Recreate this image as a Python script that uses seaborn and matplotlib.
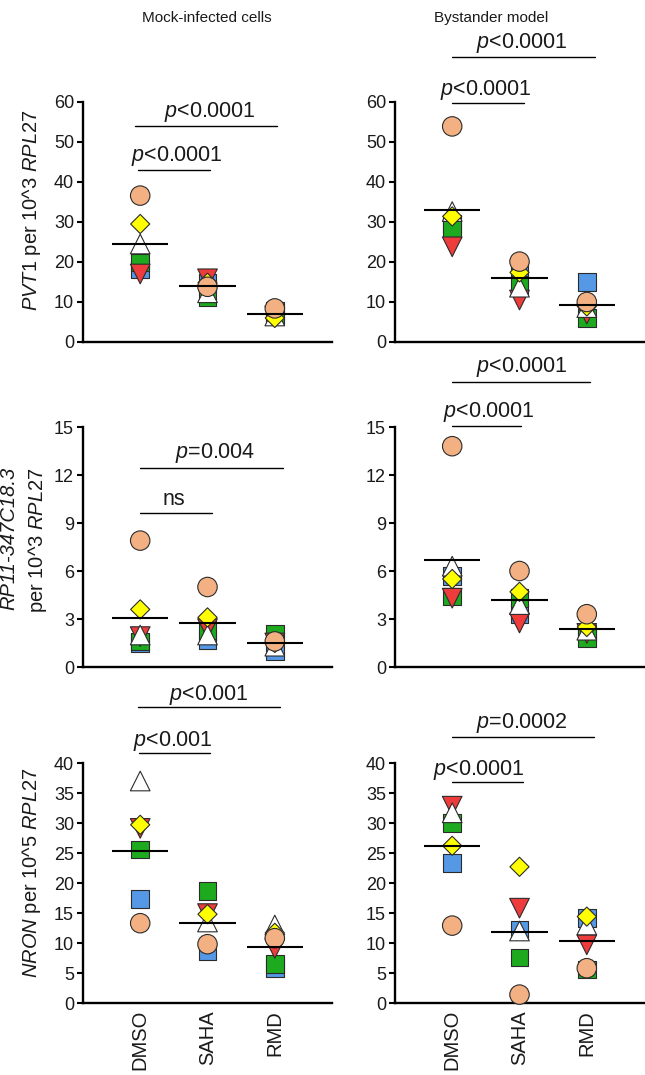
import numpy as np
import pandas as pd
import matplotlib
matplotlib.use("Agg")
import matplotlib.pyplot as plt
import seaborn as sns

# ---------------- data ----------------
TREATMENTS = ["DMSO", "SAHA", "RMD"]
# donor order = drawing order (first drawn at the back)
DONORS = ["blue", "green", "red", "white", "yellow", "peach"]

# PVT1, mock-infected cells (values per donor in DONORS order)
PVT1_MOCK_DMSO = [18.3, 19.9, 17.0, 24.5, 29.5, 36.6]
PVT1_MOCK_SAHA = [14.8, 11.3, 15.8, 12.3, 14.8, 13.8]
PVT1_MOCK_RMD = [7.8, 6.8, 6.5, 6.5, 6.0, 8.4]
PVT1_MOCK_MEAN = [24.4, 14.0, 7.0]

# PVT1, bystander model
PVT1_BYST_DMSO = [29.5, 28.2, 23.8, 32.6, 31.4, 53.9]
PVT1_BYST_SAHA = [18.4, 14.2, 10.5, 13.7, 17.4, 20.1]
PVT1_BYST_RMD = [15.0, 6.0, 7.0, 8.6, 8.9, 10.0]
PVT1_BYST_MEAN = [33.1, 15.9, 9.2]

# RP11-347C18.3, mock-infected cells
RP11_MOCK_DMSO = [1.5, 1.6, 1.9, 2.0, 3.6, 7.9]
RP11_MOCK_SAHA = [1.7, 2.3, 2.4, 2.0, 3.1, 5.0]
RP11_MOCK_RMD = [1.0, 2.1, 1.5, 1.3, 1.5, 1.6]
RP11_MOCK_MEAN = [3.09, 2.75, 1.5]

# RP11-347C18.3, bystander model
RP11_BYST_DMSO = [5.7, 4.4, 4.3, 6.3, 5.5, 13.8]
RP11_BYST_SAHA = [3.3, 4.3, 2.75, 3.9, 4.7, 6.0]
RP11_BYST_RMD = [2.1, 1.8, 2.1, 2.3, 2.5, 3.3]
RP11_BYST_MEAN = [6.67, 4.2, 2.35]

# NRON, mock-infected cells
NRON_MOCK_DMSO = [17.3, 25.6, 29.1, 37.0, 29.7, 13.3]
NRON_MOCK_SAHA = [8.6, 18.7, 14.9, 13.5, 14.8, 9.8]
NRON_MOCK_RMD = [5.8, 6.5, 9.1, 13.0, 11.7, 10.8]
NRON_MOCK_MEAN = [25.3, 13.3, 9.4]

# NRON, bystander model
NRON_BYST_DMSO = [23.3, 30.0, 32.8, 31.7, 26.2, 12.9]
NRON_BYST_SAHA = [12.2, 7.6, 15.8, 12.0, 22.7, 1.4]
NRON_BYST_RMD = [14.2, 5.6, 9.7, 13.0, 14.4, 5.8]
NRON_BYST_MEAN = [26.2, 11.9, 10.4]

# significance labels (near comparison DMSO-SAHA, far comparison DMSO-RMD)
PVT1_MOCK_P = [r"$\it{p}$<0.0001", r"$\it{p}$<0.0001"]
PVT1_BYST_P = [r"$\it{p}$<0.0001", r"$\it{p}$<0.0001"]
RP11_MOCK_P = ["ns", r"$\it{p}$=0.004"]
RP11_BYST_P = [r"$\it{p}$<0.0001", r"$\it{p}$<0.0001"]
NRON_MOCK_P = [r"$\it{p}$<0.001", r"$\it{p}$<0.001"]
NRON_BYST_P = [r"$\it{p}$<0.0001", r"$\it{p}$=0.0002"]

# ---------------- styles ----------------
PALETTE = {"blue": "#5599E6", "green": "#1EAA1E", "red": "#EE3C3C",
           "white": "#FFFFFF", "yellow": "#FFFF00", "peach": "#F3B183"}
MARKERS = {"blue": "s", "green": "s", "red": "v",
           "white": "^", "yellow": "D", "peach": "o"}
SIZES = {"blue": 160, "green": 160, "red": 200,
         "white": 200, "yellow": 95, "peach": 196}

sns.set_style("ticks")
plt.rcParams["font.family"] = ["Liberation Sans", "DejaVu Sans"]
plt.rcParams["mathtext.fontset"] = "custom"
plt.rcParams["mathtext.rm"] = "Liberation Sans"
plt.rcParams["mathtext.it"] = "Liberation Sans:italic"
plt.rcParams["mathtext.default"] = "regular"

W, H = 645, 1075
fig = plt.figure(figsize=(W / 100, H / 100), dpi=100)


def px_axes(left, top, right, bottom):
    return fig.add_axes([left / W, 1 - bottom / H, (right - left) / W, (bottom - top) / H])


def draw_panel(ax, groups, means, ymax, ystep, pvals, ann, show_x):
    rows = []
    for ti, vals in enumerate(groups):
        for d, v in zip(DONORS, vals):
            rows.append({"x": ti, "value": v, "donor": d})
    df = pd.DataFrame(rows)
    sns.scatterplot(data=df, x="x", y="value", hue="donor", style="donor", size="donor",
                    hue_order=DONORS, style_order=DONORS, size_order=DONORS,
                    palette=PALETTE, markers=MARKERS, sizes=SIZES,
                    edgecolor="#2b2b2b", linewidth=0.8, legend=False,
                    clip_on=False, zorder=3, ax=ax)
    xs = np.arange(len(TREATMENTS))
    ax.hlines(means, xs - 0.42, xs + 0.42, colors="black", lw=1.5, zorder=5)

    ax.set_xlim(-0.85, 2.85)
    ax.set_ylim(0, ymax)
    ax.set_yticks(np.arange(0, ymax + ystep / 2, ystep))
    for s in ["top", "right"]:
        ax.spines[s].set_visible(False)
    for s in ["left", "bottom"]:
        ax.spines[s].set_linewidth(1.7)
        ax.spines[s].set_color("black")
    ax.tick_params(axis="y", length=4.5, width=1.5, labelsize=13, pad=2, colors="black",
                   labelcolor="#1a1a1a")
    ax.tick_params(axis="x", length=0, pad=5)
    ax.set_xlabel("")
    ax.set_ylabel("")
    ax.set_xticks(xs)
    if show_x:
        ax.set_xticklabels(TREATMENTS, rotation=90, fontsize=14.5, color="#1a1a1a")
    else:
        ax.set_xticklabels([])

    # significance bars: (x0, x1, y_line, x_text, y_text)
    for label, (x0, x1, yl, xt, yt) in zip(pvals, ann):
        ax.plot([x0, x1], [yl, yl], color="black", lw=1.0, clip_on=False, zorder=5)
        ax.text(xt, yt, label, ha="center", va="center", fontsize=15.5,
                color="#1a1a1a", clip_on=False)


# axes (pixel boxes)
LEFT = (83, 332)
RIGHT = (395, 644)
ROWS = [(102, 342), (427, 667), (763, 1003)]

ax_tl = px_axes(LEFT[0], ROWS[0][0], LEFT[1], ROWS[0][1])
ax_tr = px_axes(RIGHT[0], ROWS[0][0], RIGHT[1], ROWS[0][1])
ax_ml = px_axes(LEFT[0], ROWS[1][0], LEFT[1], ROWS[1][1])
ax_mr = px_axes(RIGHT[0], ROWS[1][0], RIGHT[1], ROWS[1][1])
ax_bl = px_axes(LEFT[0], ROWS[2][0], LEFT[1], ROWS[2][1])
ax_br = px_axes(RIGHT[0], ROWS[2][0], RIGHT[1], ROWS[2][1])

draw_panel(ax_tl, [PVT1_MOCK_DMSO, PVT1_MOCK_SAHA, PVT1_MOCK_RMD], PVT1_MOCK_MEAN, 60, 10,
           PVT1_MOCK_P, [(-0.03, 1.03, 43.0, 0.55, 46.6), (-0.07, 2.04, 54.1, 1.04, 57.6)], False)
draw_panel(ax_tr, [PVT1_BYST_DMSO, PVT1_BYST_SAHA, PVT1_BYST_RMD], PVT1_BYST_MEAN, 60, 10,
           PVT1_BYST_P, [(0.0, 1.06, 59.7, 0.5, 63.0), (0.0, 2.12, 71.2, 1.04, 74.8)], False)
draw_panel(ax_ml, [RP11_MOCK_DMSO, RP11_MOCK_SAHA, RP11_MOCK_RMD], RP11_MOCK_MEAN, 15, 3,
           RP11_MOCK_P, [(0.0, 1.06, 9.63, 0.5, 10.45), (0.0, 2.12, 12.44, 1.11, 13.4)], False)
draw_panel(ax_mr, [RP11_BYST_DMSO, RP11_BYST_SAHA, RP11_BYST_RMD], RP11_BYST_MEAN, 15, 3,
           RP11_BYST_P, [(0.0, 1.02, 15.06, 0.55, 15.95), (0.0, 2.05, 17.8, 1.04, 18.75)], False)
draw_panel(ax_bl, [NRON_MOCK_DMSO, NRON_MOCK_SAHA, NRON_MOCK_RMD], NRON_MOCK_MEAN, 40, 5,
           NRON_MOCK_P, [(-0.02, 1.03, 41.7, 0.48, 43.7), (-0.04, 2.08, 49.4, 1.02, 51.4)], True)
draw_panel(ax_br, [NRON_BYST_DMSO, NRON_BYST_SAHA, NRON_BYST_RMD], NRON_BYST_MEAN, 40, 5,
           NRON_BYST_P, [(0.0, 1.05, 36.9, 0.4, 38.9), (0.0, 2.1, 44.4, 1.04, 46.7)], True)

# column titles
fig.text(207 / W, 1 - 18 / H, "Mock-infected cells", ha="center", va="center",
         fontsize=11, color="#1a1a1a")
fig.text(491 / W, 1 - 18 / H, "Bystander model", ha="center", va="center",
         fontsize=11, color="#1a1a1a")

# y-axis labels
YLAB_FS = 14.5
fig.text(32 / W, 1 - 210 / H, r"$\it{PVT1}$ per 10^3 $\it{RPL27}$", rotation=90,
         ha="center", va="center", fontsize=YLAB_FS, color="#1a1a1a")
fig.text(9 / W, 1 - 538 / H, "RP11-347C18.3", rotation=90, style="italic",
         ha="center", va="center", fontsize=YLAB_FS, color="#1a1a1a")
fig.text(38 / W, 1 - 540 / H, r"per 10^3 $\it{RPL27}$", rotation=90,
         ha="center", va="center", fontsize=YLAB_FS, color="#1a1a1a")
fig.text(32 / W, 1 - 873 / H, r"$\it{NRON}$ per 10^5 $\it{RPL27}$", rotation=90,
         ha="center", va="center", fontsize=YLAB_FS, color="#1a1a1a")

fig.savefig("out.png", dpi=100)
